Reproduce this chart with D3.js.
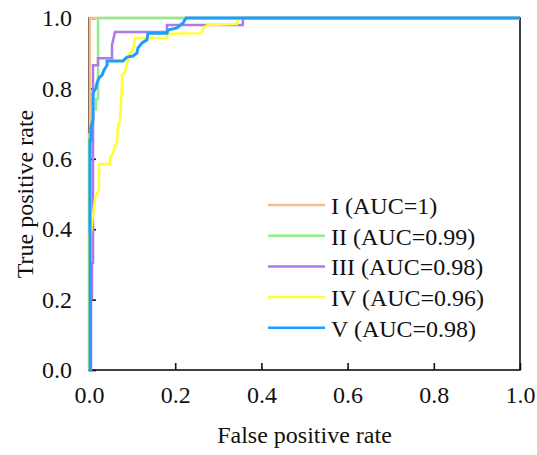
<!DOCTYPE html>
<html>
<head>
<meta charset="utf-8">
<script src="https://cdn.jsdelivr.net/npm/d3@7"></script>
<style>
  body { margin: 0; background: #fff; }
  svg text { font-family: "Liberation Serif", "Times New Roman", Times, serif !important; fill: #111; }
</style>
</head>
<body>
<div id="chart"></div>
<script>
// ROC curves, values
let fpr1 = [0.002, 0.002, 1]
let tpr1 = [0, 1, 1]

let fpr2 = [0, 0, 0.009, 0.009, 0.016, 0.016, 0.021, 0.021, 1]
let tpr2 = [0, 0.67, 0.67, 0.74, 0.74, 0.77, 0.77, 1, 1]

let fpr3 = [0, 0.0046, 0.0046, 0.007, 0.007, 0.0093, 0.0093, 0.0209, 0.0209, 0.0534, 0.0534, 0.0603, 0.181, 0.181, 0.357, 0.357, 1]
let tpr3 = [0, 0, 0.205, 0.205, 0.304, 0.304, 0.866, 0.866, 0.886, 0.886, 0.923, 0.96, 0.96, 0.98, 0.98, 1, 1]

let fpr4 = [0, 0, 0.0046, 0.0093, 0.0139, 0.0186, 0.0232, 0.0232, 0.0487, 0.0487, 0.0557, 0.0603, 0.065, 0.0673, 0.0719, 0.0766, 0.0766, 0.0835, 0.0882, 0.0951, 0.1021, 0.1067, 0.181, 0.181, 0.2622, 0.2645, 0.2761, 0.3434, 0.3457, 1]
let tpr4 = [0, 0.384, 0.392, 0.44, 0.483, 0.503, 0.511, 0.585, 0.585, 0.602, 0.616, 0.639, 0.645, 0.696, 0.705, 0.81, 0.838, 0.847, 0.875, 0.901, 0.909, 0.943, 0.943, 0.955, 0.957, 0.972, 0.98, 0.983, 1, 1]

let fpr5 = [0, 0.0023, 0.0023, 0.0046, 0.0046, 0.0093, 0.0093, 0.0162, 0.0186, 0.0232, 0.0302, 0.0348, 0.0418, 0.0418, 0.0789, 0.0882, 0.1021, 0.1114, 0.1137, 0.123, 0.1346, 0.1369, 0.181, 0.1833, 0.2042, 0.2181, 0.2251, 1]
let tpr5 = [0, 0, 0.653, 0.653, 0.69, 0.71, 0.787, 0.801, 0.815, 0.83, 0.838, 0.852, 0.866, 0.878, 0.878, 0.889, 0.892, 0.901, 0.915, 0.929, 0.938, 0.957, 0.957, 0.966, 0.972, 0.986, 1, 1]

let labels = ['I (AUC=1)', 'II (AUC=0.99)', 'III (AUC=0.98)', 'IV (AUC=0.96)', 'V (AUC=0.98)']
let colors = ['#F8BB8C', '#8EEE8E', '#AC7BE6', '#FFFF30', '#1E9CFF']
let ticks = [0, 0.2, 0.4, 0.6, 0.8, 1.0]

let series = [
    [fpr1, tpr1], [fpr2, tpr2], [fpr3, tpr3], [fpr4, tpr4], [fpr5, tpr5]
].map(([f, t]) => f.map((v, i) => [v, t[i]]))

let W = 537, H = 455
let margin = { top: 18, right: 17, bottom: 85, left: 89 },
    width = W - margin.left - margin.right,
    height = H - margin.top - margin.bottom

let serif = '"Liberation Serif", "Times New Roman", Times, serif'

let svg = d3.select('#chart')
    .append('svg')
    .attr('width', W)
    .attr('height', H)

let g = svg.append('g')
    .attr('transform', `translate(${margin.left},${margin.top})`)

let x = d3.scaleLinear().domain([0, 1]).range([0, width])
let y = d3.scaleLinear().domain([0, 1]).range([height, 0])

// frame
g.append('rect')
    .attr('width', width)
    .attr('height', height)
    .attr('fill', 'none')
    .attr('stroke', '#111')
    .attr('stroke-width', 1.6)

// axes, ticks pointing inward
let xAxis = g.append('g')
    .attr('transform', `translate(0,${height})`)
    .call(d3.axisBottom(x).tickValues(ticks).tickFormat(d3.format('.1f')).tickSizeInner(-7).tickSizeOuter(0).tickPadding(16))
let yAxis = g.append('g')
    .call(d3.axisLeft(y).tickValues(ticks).tickFormat(d3.format('.1f')).tickSizeInner(-7).tickSizeOuter(0).tickPadding(17))

for (let ax of [xAxis, yAxis]) {
    ax.attr('font-family', null).attr('font-size', null)
    ax.select('.domain').remove()
    ax.selectAll('line').attr('stroke', '#111').attr('stroke-width', 1.6)
    ax.selectAll('text').style('font-size', '24px').style('font-family', serif).attr('fill', '#111')
}

// curves
let line = d3.line().x(d => x(d[0])).y(d => y(d[1]))

g.append('g')
    .selectAll('path')
    .data(series)
    .enter().append('path')
    .attr('d', line)
    .attr('fill', 'none')
    .attr('stroke', (d, i) => colors[i])
    .attr('stroke-width', (d, i) => i == 4 ? 3 : 2.5)

// legend
let legend = svg.append('g')
    .attr('transform', 'translate(268,205)')

let rows = legend.selectAll('g')
    .data(labels)
    .enter().append('g')
    .attr('transform', (d, i) => `translate(0,${i * 30.7})`)

rows.append('line')
    .attr('x1', 0)
    .attr('x2', 57)
    .attr('stroke', (d, i) => colors[i])
    .attr('stroke-width', 2.5)

rows.append('text')
    .attr('x', 63)
    .attr('y', 9)
    .style('font-size', '24px')
    .style('font-family', serif)
    .text(d => d)

// axis titles
svg.append('text')
    .attr('x', margin.left + width / 2)
    .attr('y', 443)
    .attr('text-anchor', 'middle')
    .style('font-size', '24px')
    .style('font-family', serif)
    .text('False positive rate')

svg.append('text')
    .attr('transform', `translate(33,${margin.top + height / 2}) rotate(-90)`)
    .attr('text-anchor', 'middle')
    .style('font-size', '24px')
    .style('font-family', serif)
    .text('True positive rate')
</script>
</body>
</html>
